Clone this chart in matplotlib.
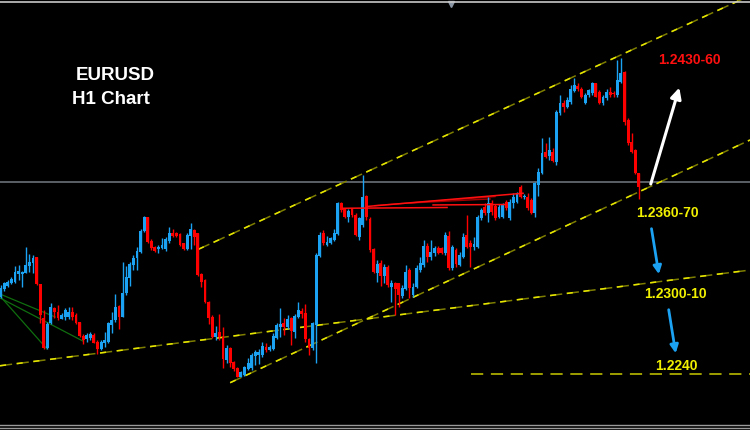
import matplotlib
matplotlib.use("Agg")
import matplotlib.pyplot as plt
from matplotlib.lines import Line2D
import numpy as np

# EURUSD H1 candles (oldest first)
opens = [
    1.22916, 1.22964, 1.22987, 1.23004, 1.23016, 1.23067, 1.23067, 1.23076, 1.23120, 1.23138,
    1.23178, 1.22998, 1.22771, 1.22571, 1.22738, 1.22842, 1.22816, 1.22769, 1.22782, 1.22782,
    1.22816, 1.22793, 1.22747, 1.22653, 1.22631, 1.22638, 1.22662, 1.22616, 1.22567, 1.22609,
    1.22616, 1.22727, 1.22760, 1.22853, 1.22782, 1.22938, 1.23038, 1.23127, 1.23171, 1.23216,
    1.23356, 1.23444, 1.23289, 1.23244, 1.23231, 1.23238, 1.23231, 1.23289, 1.23342, 1.23338,
    1.23333, 1.23271, 1.23231, 1.23320, 1.23360, 1.23338, 1.23067, 1.23027, 1.22882, 1.22782,
    1.22644, 1.22682, 1.22649, 1.22493, 1.22571, 1.22482, 1.22438, 1.22382, 1.22393, 1.22431,
    1.22438, 1.22520, 1.22527, 1.22524, 1.22582, 1.22560, 1.22564, 1.22638, 1.22716, 1.22742,
    1.22716, 1.22771, 1.22682, 1.22782, 1.22822, 1.22809, 1.22631, 1.22571, 1.22727, 1.23187,
    1.23338, 1.23260, 1.23271, 1.23293, 1.23333, 1.23538, 1.23498, 1.23449, 1.23498, 1.23460,
    1.23316, 1.23393, 1.23587, 1.23431, 1.23231, 1.23071, 1.23142, 1.23053, 1.23111, 1.22982,
    1.23004, 1.23004, 1.22920, 1.22964, 1.23093, 1.22927, 1.22982, 1.23093, 1.23127, 1.23253,
    1.23178, 1.23209, 1.23238, 1.23238, 1.23204, 1.23320, 1.23104, 1.23227, 1.23127, 1.23182,
    1.23327, 1.23271, 1.23244, 1.23249, 1.23438, 1.23516, 1.23471, 1.23540, 1.23520, 1.23449,
    1.23449, 1.23549, 1.23438, 1.23538, 1.23549, 1.23649, 1.23580, 1.23582, 1.23560, 1.23471,
    1.23660, 1.23742, 1.23882, 1.23853, 1.23882, 1.23816, 1.24138, 1.24204, 1.24182, 1.24216,
    1.24289, 1.24320, 1.24298, 1.24204, 1.24260, 1.24271, 1.24338, 1.24282, 1.24204, 1.24238,
    1.24282, 1.24273, 1.24260, 1.24349, 1.24416, 1.24093, 1.23949, 1.23893, 1.23738,
]
highs = [
    1.22993, 1.23016, 1.23027, 1.23044, 1.23122, 1.23127, 1.23085, 1.23244, 1.23200, 1.23193,
    1.23182, 1.23002, 1.22827, 1.22749, 1.22876, 1.22849, 1.22860, 1.22804, 1.22838, 1.22844,
    1.22849, 1.22804, 1.22749, 1.22664, 1.22676, 1.22678, 1.22671, 1.22627, 1.22627, 1.22682,
    1.22749, 1.22816, 1.22931, 1.22860, 1.23149, 1.23120, 1.23149, 1.23193, 1.23249, 1.23364,
    1.23453, 1.23449, 1.23298, 1.23253, 1.23260, 1.23304, 1.23316, 1.23378, 1.23364, 1.23349,
    1.23342, 1.23276, 1.23338, 1.23409, 1.23364, 1.23342, 1.23071, 1.23031, 1.22889, 1.22793,
    1.22720, 1.22800, 1.22711, 1.22593, 1.22582, 1.22489, 1.22449, 1.22422, 1.22455, 1.22504,
    1.22542, 1.22560, 1.22565, 1.22616, 1.22604, 1.22593, 1.22671, 1.22738, 1.22838, 1.22771,
    1.22793, 1.22782, 1.22800, 1.22882, 1.22838, 1.22867, 1.22638, 1.22749, 1.23204, 1.23349,
    1.23360, 1.23320, 1.23316, 1.23364, 1.23549, 1.23549, 1.23504, 1.23498, 1.23504, 1.23471,
    1.23449, 1.23727, 1.23593, 1.23449, 1.23238, 1.23160, 1.23160, 1.23133, 1.23127, 1.23027,
    1.23011, 1.23010, 1.22993, 1.23127, 1.23104, 1.23004, 1.23127, 1.23178, 1.23293, 1.23271,
    1.23293, 1.23253, 1.23253, 1.23244, 1.23349, 1.23356, 1.23260, 1.23238, 1.23216, 1.23338,
    1.23460, 1.23293, 1.23316, 1.23460, 1.23504, 1.23538, 1.23582, 1.23560, 1.23530, 1.23530,
    1.23540, 1.23560, 1.23565, 1.23604, 1.23615, 1.23660, 1.23600, 1.23604, 1.23571, 1.23682,
    1.23771, 1.23971, 1.23938, 1.23978, 1.23904, 1.24160, 1.24260, 1.24227, 1.24249, 1.24327,
    1.24371, 1.24338, 1.24316, 1.24271, 1.24298, 1.24349, 1.24342, 1.24293, 1.24260, 1.24298,
    1.24316, 1.24289, 1.24493, 1.24504, 1.24422, 1.24104, 1.24004, 1.23898, 1.23742,
]
lows = [
    1.22904, 1.22956, 1.22978, 1.23000, 1.23009, 1.23030, 1.22978, 1.23071, 1.23082, 1.23076,
    1.22993, 1.22738, 1.22564, 1.22564, 1.22733, 1.22771, 1.22760, 1.22764, 1.22760, 1.22764,
    1.22760, 1.22733, 1.22644, 1.22600, 1.22616, 1.22627, 1.22604, 1.22533, 1.22560, 1.22582,
    1.22609, 1.22671, 1.22749, 1.22698, 1.22778, 1.22927, 1.22987, 1.23093, 1.23093, 1.23209,
    1.23349, 1.23276, 1.23227, 1.23216, 1.23209, 1.23231, 1.23222, 1.23276, 1.23311, 1.23311,
    1.23253, 1.23227, 1.23227, 1.23231, 1.23260, 1.23053, 1.22978, 1.22871, 1.22733, 1.22638,
    1.22627, 1.22627, 1.22438, 1.22471, 1.22449, 1.22422, 1.22378, 1.22378, 1.22387, 1.22425,
    1.22430, 1.22460, 1.22470, 1.22516, 1.22549, 1.22556, 1.22560, 1.22631, 1.22649, 1.22660,
    1.22698, 1.22593, 1.22638, 1.22771, 1.22771, 1.22616, 1.22527, 1.22560, 1.22476, 1.23178,
    1.23260, 1.23253, 1.23267, 1.23289, 1.23327, 1.23482, 1.23438, 1.23416, 1.23449, 1.23320,
    1.23293, 1.23382, 1.23427, 1.23216, 1.23071, 1.23016, 1.22987, 1.23009, 1.22978, 1.22882,
    1.22793, 1.22849, 1.22904, 1.22960, 1.22904, 1.22916, 1.22971, 1.23082, 1.23116, 1.23149,
    1.23160, 1.23187, 1.23200, 1.23198, 1.23193, 1.23093, 1.23093, 1.23116, 1.23120, 1.23171,
    1.23238, 1.23116, 1.23227, 1.23238, 1.23427, 1.23460, 1.23416, 1.23460, 1.23427, 1.23438,
    1.23440, 1.23490, 1.23430, 1.23504, 1.23540, 1.23571, 1.23565, 1.23493, 1.23467, 1.23449,
    1.23587, 1.23733, 1.23838, 1.23827, 1.23816, 1.23793, 1.24127, 1.24149, 1.24171, 1.24200,
    1.24282, 1.24289, 1.24238, 1.24200, 1.24249, 1.24260, 1.24244, 1.24200, 1.24193, 1.24227,
    1.24249, 1.24249, 1.24249, 1.24342, 1.24060, 1.23927, 1.23871, 1.23733, 1.23564,
]
closes = [
    1.22971, 1.23004, 1.23016, 1.23031, 1.23082, 1.23084, 1.23082, 1.23127, 1.23149, 1.23176,
    1.22998, 1.22793, 1.22571, 1.22733, 1.22844, 1.22816, 1.22771, 1.22793, 1.22827, 1.22816,
    1.22778, 1.22742, 1.22653, 1.22627, 1.22660, 1.22667, 1.22609, 1.22564, 1.22616, 1.22627,
    1.22742, 1.22760, 1.22849, 1.22782, 1.22938, 1.23049, 1.23133, 1.23171, 1.23222, 1.23356,
    1.23444, 1.23282, 1.23238, 1.23222, 1.23244, 1.23260, 1.23298, 1.23338, 1.23320, 1.23320,
    1.23260, 1.23231, 1.23327, 1.23364, 1.23316, 1.23060, 1.23016, 1.22882, 1.22771, 1.22644,
    1.22671, 1.22644, 1.22498, 1.22571, 1.22476, 1.22431, 1.22382, 1.22416, 1.22445, 1.22476,
    1.22527, 1.22549, 1.22544, 1.22587, 1.22560, 1.22582, 1.22653, 1.22727, 1.22733, 1.22716,
    1.22764, 1.22689, 1.22787, 1.22827, 1.22800, 1.22631, 1.22571, 1.22738, 1.23193, 1.23327,
    1.23271, 1.23282, 1.23304, 1.23342, 1.23538, 1.23493, 1.23449, 1.23489, 1.23460, 1.23327,
    1.23438, 1.23582, 1.23449, 1.23227, 1.23082, 1.23131, 1.23053, 1.23116, 1.22993, 1.23009,
    1.22964, 1.22927, 1.22971, 1.23082, 1.22971, 1.22982, 1.23104, 1.23138, 1.23253, 1.23178,
    1.23216, 1.23238, 1.23204, 1.23204, 1.23327, 1.23104, 1.23244, 1.23133, 1.23193, 1.23316,
    1.23249, 1.23244, 1.23267, 1.23449, 1.23493, 1.23471, 1.23538, 1.23480, 1.23438, 1.23516,
    1.23527, 1.23504, 1.23549, 1.23582, 1.23604, 1.23582, 1.23584, 1.23504, 1.23471, 1.23671,
    1.23749, 1.23871, 1.23849, 1.23893, 1.23822, 1.24149, 1.24204, 1.24182, 1.24227, 1.24298,
    1.24327, 1.24298, 1.24249, 1.24260, 1.24293, 1.24342, 1.24249, 1.24204, 1.24249, 1.24282,
    1.24260, 1.24269, 1.24360, 1.24409, 1.24082, 1.23938, 1.23882, 1.23738, 1.23649,
]

# drawn objects: (bar index, price) end points
channel_top = [(56.1, 1.23231), (210.0, 1.24923)]
channel_bottom = [(65.0, 1.22342), (210.0, 1.23960)]
support_line = [(0.8, 1.22455), (210.0, 1.23093)]
target_line = [(132.1, 1.22400), (210.0, 1.22400)]
price_line = 1.23683

red_lines = [
    [(96.5, 1.23505), (125.5, 1.23510)],
    [(103.2, 1.23517), (146.7, 1.23605)],
    [(121.6, 1.23527), (141.7, 1.23530)],
]
dark_red_lines = [
    [(105.4, 1.23523), (138.9, 1.23583)],
    [(115.2, 1.23540), (137.5, 1.23567)],
]
green_lines = [
    [(0.8, 1.22920), (13.9, 1.22567)],
    [(0.8, 1.22907), (23.9, 1.22620)],
    [(0.8, 1.22933), (16.2, 1.22780)],
]

UP = "#1ca2f2"
DOWN = "#ff0000"


def draw_candles(ax):
    x = np.arange(1, len(opens) + 1)
    o = np.array(opens)
    h = np.array(highs)
    l = np.array(lows)
    c = np.array(closes)
    cols = [UP if cc >= oo else DOWN for oo, cc in zip(o, c)]
    ax.vlines(x, l, h, colors=cols, linewidth=1.0, zorder=3)
    body = np.maximum(np.abs(c - o), 0.00004)
    ax.bar(x, body, bottom=np.minimum(o, c), width=0.8, color=cols,
           linewidth=0, zorder=4)


def yellow_dash(ax, pts):
    xs = [p[0] for p in pts]
    ys = [p[1] for p in pts]
    ax.plot(xs, ys, color="#7d7d00", lw=1.1, linestyle=(0, (8, 3)), zorder=2)
    ax.plot(xs, ys, color="#e6e600", lw=1.1, linestyle=(0, (4, 7)), zorder=2)


def main():
    fig = plt.figure(figsize=(7.5, 4.3), dpi=100, facecolor="black")
    ax = fig.add_axes([0, 0, 1, 1])
    ax.set_facecolor("black")
    ax.set_xlim(0.805, 210.0)
    ax.set_ylim(1.220267, 1.248933)
    ax.axis("off")

    ax.axhline(price_line, color="#6a7078", lw=1.2, zorder=1)

    for seg in green_lines:
        ax.plot([p[0] for p in seg], [p[1] for p in seg], color="#0f6e0f", lw=0.9, zorder=2)
    for seg in dark_red_lines:
        ax.plot([p[0] for p in seg], [p[1] for p in seg], color="#a00000", lw=1.0, zorder=2)
    for seg in red_lines:
        ax.plot([p[0] for p in seg], [p[1] for p in seg], color="#ff1010", lw=1.1, zorder=5)

    for pts in (channel_top, channel_bottom, support_line):
        yellow_dash(ax, pts)
    ax.plot([p[0] for p in target_line], [p[1] for p in target_line],
            color="#c8c800", lw=1.1, linestyle=(0, (8, 5)), zorder=2)

    draw_candles(ax)

    # arrows
    ax.annotate("", xy=(190.5, 1.24327), xytext=(182.1, 1.23649),
                arrowprops=dict(arrowstyle="-|>", color="white", lw=2.2, mutation_scale=16))
    ax.annotate("", xy=(184.7, 1.23047), xytext=(182.4, 1.23387),
                arrowprops=dict(arrowstyle="-|>", color=UP, lw=2.0, mutation_scale=12))
    ax.annotate("", xy=(189.4, 1.22520), xytext=(187.2, 1.22847),
                arrowprops=dict(arrowstyle="-|>", color=UP, lw=2.0, mutation_scale=12))

    font = dict(family=["Liberation Sans", "DejaVu Sans"], fontweight="bold")
    ax.text(21.99, 1.24387, "EURUSD", color="white", fontsize=13.5, ha="left", va="center", **font)
    ax.text(20.9, 1.24233, "H1 Chart", color="white", fontsize=13.5, ha="left", va="center", **font)
    ax.text(193.0, 1.24493, "1.2430-60", color="#ff1010", fontsize=10, ha="center", va="center", **font)
    ax.text(187.0, 1.23473, "1.2360-70", color="#f0f000", fontsize=10, ha="center", va="center", **font)
    ax.text(189.1, 1.22933, "1.2300-10", color="#f0f000", fontsize=10, ha="center", va="center", **font)
    ax.text(189.6, 1.22455, "1.2240", color="#f0f000", fontsize=10, ha="center", va="center", **font)

    # small marker on the top border
    ax.plot([126.6], [1.24867], marker="v", color="#8a96a4", markersize=5, zorder=6)

    # window frame lines
    fig.add_artist(Line2D([0, 1], [0.9965, 0.9965], color="#c8c8c8", lw=1.2))
    fig.add_artist(Line2D([0, 1], [0.0115, 0.0115], color="#9a9a9a", lw=1.0))
    fig.add_artist(Line2D([0, 1], [0.0050, 0.0050], color="#9a9a9a", lw=1.0))

    fig.savefig("out.png", dpi=100, facecolor="black")


if __name__ == "__main__":
    main()
